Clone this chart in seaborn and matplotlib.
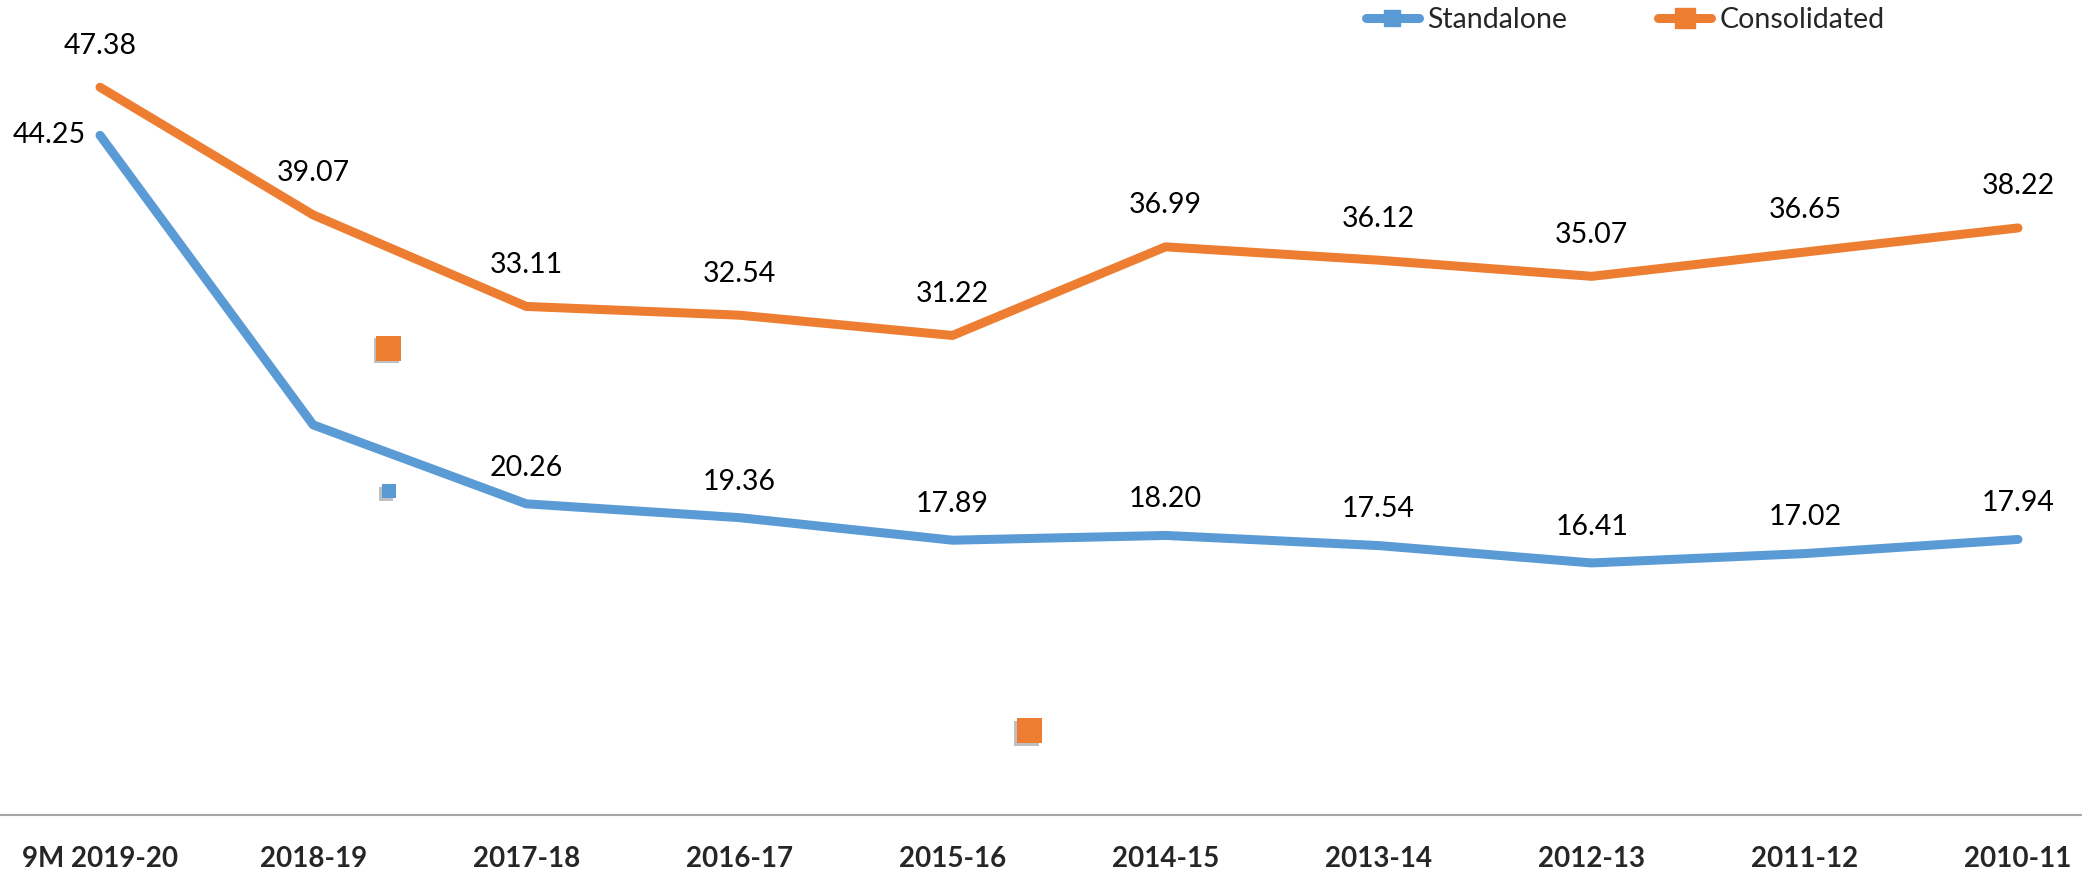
import matplotlib
matplotlib.use("Agg")
import matplotlib.pyplot as plt
import matplotlib.patheffects as pe
from matplotlib.lines import Line2D
import seaborn as sns
import pandas as pd
import numpy as np

# ---- data ----
categories = ["9M 2019-20", "2018-19", "2017-18", "2016-17", "2015-16",
              "2014-15", "2013-14", "2012-13", "2011-12", "2010-11"]
standalone = [44.25, 25.4, 20.26, 19.36, 17.89, 18.20, 17.54, 16.41, 17.02, 17.94]
standalone_labels = ["44.25", None, "20.26", "19.36", "17.89", "18.20", "17.54", "16.41", "17.02", "17.94"]
consolidated = [47.38, 39.07, 33.11, 32.54, 31.22, 36.99, 36.12, 35.07, 36.65, 38.22]
consolidated_labels = ["47.38", "39.07", "33.11", "32.54", "31.22", "36.99", "36.12", "35.07", "36.65", "38.22"]
# stray marker artefacts visible in the picture (x in category units, y in value units)
stray_x = [1.356, 1.356, 4.36]
stray_y = [30.4, 21.1, 5.5]
stray_series = ["Consolidated", "Standalone", "Consolidated"]
stray_size = [18, 10, 18]

BLUE = "#5B9BD5"
ORANGE = "#ED7D31"

sns.set_theme(style="white")
plt.rcParams["font.family"] = ["Lato", "DejaVu Sans"]

fig = plt.figure(figsize=(20.82, 8.74), dpi=100)
ax = fig.add_axes([0, 1 - 815 / 874, 1, 815 / 874])

x = np.arange(len(categories))
df = pd.DataFrame({
    "x": np.concatenate([x, x]),
    "value": standalone + consolidated,
    "series": ["Standalone"] * len(x) + ["Consolidated"] * len(x),
})
sns.lineplot(data=df, x="x", y="value", hue="series",
             palette={"Standalone": BLUE, "Consolidated": ORANGE},
             linewidth=6.5, ax=ax, legend=False,
             solid_capstyle="round", solid_joinstyle="round")

# stray markers
for sx, sy, ss, sz in zip(stray_x, stray_y, stray_series, stray_size):
    c = ORANGE if ss == "Consolidated" else BLUE
    ax.plot([sx], [sy], marker="s", markersize=sz, color=c, markeredgewidth=0,
            linestyle="none",
            path_effects=[pe.SimplePatchShadow(offset=(-2, -2), shadow_rgbFace="black", alpha=0.25), pe.Normal()])

ax.set_xlim(-100 / 213.1, 9 + (2082 - 2018) / 213.1)
ax.set_ylim(0, 815 / 15.36)

# data labels
for i, (v, lab) in enumerate(zip(consolidated, consolidated_labels)):
    if lab:
        ax.annotate(lab, (i, v), xytext=(0, 30), textcoords="offset points",
                    ha="center", va="center", fontsize=20.5, color="black")
for i, (v, lab) in enumerate(zip(standalone, standalone_labels)):
    if lab is None:
        continue
    if i == 0:
        ax.annotate(lab, (i, v), xytext=(-10, 0), textcoords="offset points",
                    ha="right", va="center", fontsize=20.5, color="black")
    else:
        ax.annotate(lab, (i, v), xytext=(0, 26), textcoords="offset points",
                    ha="center", va="center", fontsize=20.5, color="black")

ax.set_xticks(x)
ax.set_xticklabels(categories, fontsize=20, fontweight="bold")
ax.tick_params(axis="x", length=0, pad=22)
ax.set_yticks([])
ax.set_xlabel("")
ax.set_ylabel("")
for s in ["top", "left", "right"]:
    ax.spines[s].set_visible(False)
ax.spines["bottom"].set_color("#A6A6A6")
ax.spines["bottom"].set_linewidth(1.5)

handles = [
    Line2D([0], [0], color=BLUE, lw=6.5, marker="s", markersize=11, solid_capstyle="round"),
    Line2D([0], [0], color=ORANGE, lw=6.5, marker="s", markersize=14, solid_capstyle="round"),
]
fig.legend(handles, ["Standalone", "Consolidated"], loc="upper left",
           bbox_to_anchor=(1366 / 2082, 1 - 7 / 874), ncol=2, frameon=False,
           fontsize=20.5, handlelength=1.85, handletextpad=0.3, columnspacing=3.2,
           borderpad=0, borderaxespad=0)

fig.savefig("out.png", dpi=100)
